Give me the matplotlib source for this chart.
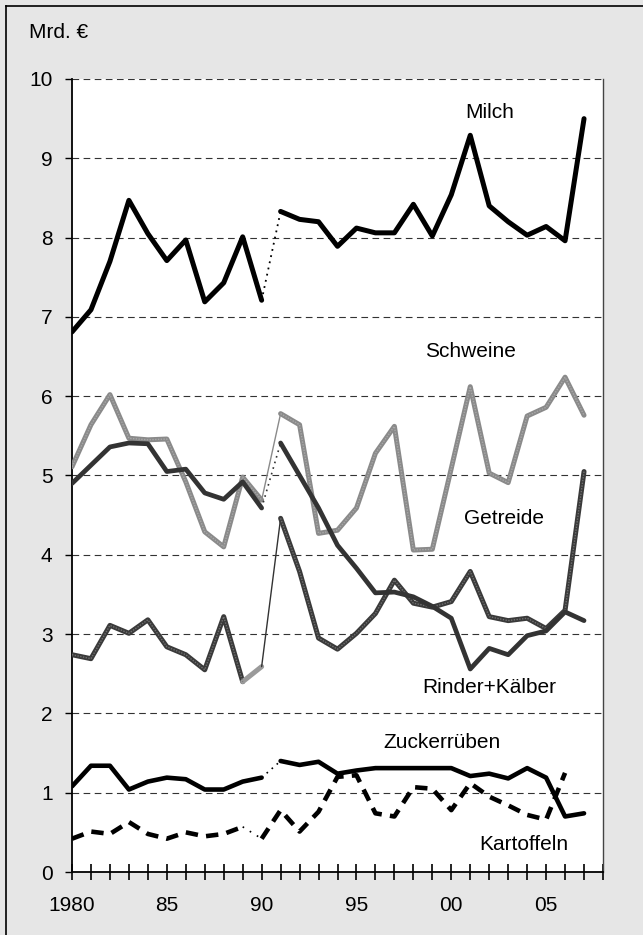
import numpy as np
import matplotlib
matplotlib.use("Agg")
import matplotlib.pyplot as plt
from matplotlib.lines import Line2D

plt.rcParams['font.family'] = ['Liberation Sans', 'DejaVu Sans']

years = np.arange(1980, 2008)

milch = [6.81, 7.09, 7.70, 8.47, 8.05, 7.71, 7.97, 7.19, 7.43, 8.01, 7.21,
         8.33, 8.23, 8.20, 7.89, 8.12, 8.06, 8.06, 8.42, 8.02, 8.54,
         9.29, 8.40, 8.20, 8.03, 8.14, 7.96, 9.50]
schweine = [5.11, 5.64, 6.02, 5.47, 5.45, 5.46, 4.92, 4.29, 4.10, 4.98, 4.69,
            5.78, 5.64, 4.27, 4.31, 4.59, 5.28, 5.62, 4.06, 4.07, 5.09,
            6.12, 5.03, 4.91, 5.75, 5.86, 6.24, 5.76]
getreide = [4.90, 5.13, 5.36, 5.41, 5.40, 5.05, 5.08, 4.78, 4.70, 4.92, 4.59,
            5.41, 5.00, 4.59, 4.12, 3.83, 3.52, 3.53, 3.47, 3.35, 3.20,
            2.56, 2.82, 2.74, 2.98, 3.04, 3.28, 3.17]
rinder = [2.74, 2.69, 3.11, 3.01, 3.18, 2.84, 2.74, 2.55, 3.22, 2.40, 2.59,
          4.46, 3.79, 2.95, 2.81, 3.01, 3.26, 3.68, 3.39, 3.34, 3.41,
          3.79, 3.22, 3.17, 3.20, 3.07, 3.30, 5.05]
zucker = [1.08, 1.34, 1.34, 1.04, 1.14, 1.19, 1.17, 1.04, 1.04, 1.14, 1.19,
          1.40, 1.35, 1.39, 1.24, 1.28, 1.31, 1.31, 1.31, 1.31, 1.31,
          1.21, 1.24, 1.18, 1.31, 1.19, 0.70, 0.74]
kartoffeln = [0.42, 0.51, 0.48, 0.63, 0.48, 0.42, 0.50, 0.45, 0.48, 0.57, 0.42,
              0.78, 0.51, 0.76, 1.20, 1.22, 0.74, 0.70, 1.07, 1.05, 0.78,
              1.12, 0.95, 0.84, 0.72, 0.66, 1.25, np.nan]

labels = ['Milch', 'Schweine', 'Getreide', 'Rinder+Kälber', 'Zuckerrüben', 'Kartoffeln']
label_pos = [(2002.05, 9.58), (2001.0, 6.56), (2002.8, 4.46), (2002.0, 2.33),
             (1999.5, 1.63), (2003.8, 0.35)]
xtick_labels = ['1980', '85', '90', '95', '00', '05']

fig = plt.figure(figsize=(6.43, 9.35), dpi=100)
fig.patch.set_facecolor('#e6e6e6')
ax = fig.add_axes([72/643, 63/935, 531/643, 793/935])
ax.set_facecolor('white')

def seg(data, i0, i1, **kw):
    ax.plot(years[i0:i1+1], data[i0:i1+1], solid_capstyle='round',
            solid_joinstyle='round', dash_capstyle='butt', **kw)

# Schweine (textured gray)
seg(schweine, 0, 10, color='#8a8a8a', lw=3.6, zorder=3)
seg(schweine, 10, 11, color='#8a8a8a', lw=1.0, zorder=3)
seg(schweine, 11, 27, color='#8a8a8a', lw=3.6, zorder=3)
seg(schweine, 0, 10, color='#a8a8a8', lw=1.0, ls=(0, (1, 1)), zorder=3.1)
seg(schweine, 11, 27, color='#a8a8a8', lw=1.0, ls=(0, (1, 1)), zorder=3.1)

# Rinder+Kälber (textured dark)
seg(rinder, 0, 9, color='#3a3a3a', lw=3.6, zorder=4)
seg(rinder, 9, 10, color='#9a9a9a', lw=3.6, zorder=4)
seg(rinder, 10, 11, color='#333333', lw=1.0, zorder=4)
seg(rinder, 11, 27, color='#3a3a3a', lw=3.6, zorder=4)
seg(rinder, 0, 9, color='#707070', lw=1.0, ls=(0, (1, 1)), zorder=4.1)
seg(rinder, 11, 27, color='#707070', lw=1.0, ls=(0, (1, 1)), zorder=4.1)

# Getreide
seg(getreide, 0, 10, color='#333333', lw=3.4, zorder=5)
seg(getreide, 10, 11, color='#333333', lw=1.2, ls=(0, (1, 2.5)), zorder=5)
seg(getreide, 11, 27, color='#333333', lw=3.4, zorder=5)

# Zuckerrüben
seg(zucker, 0, 10, color='black', lw=3.3, zorder=6)
seg(zucker, 10, 11, color='black', lw=1.2, ls=(0, (1, 3)), zorder=6)
seg(zucker, 11, 27, color='black', lw=3.3, zorder=6)

# Kartoffeln
seg(kartoffeln, 0, 9, color='black', lw=3.3, ls=(0, (2.7, 1.8)), zorder=7)
seg(kartoffeln, 9, 10, color='black', lw=1.2, ls=(0, (1, 4)), zorder=7)
seg(kartoffeln, 10, 26, color='black', lw=3.3, ls=(0, (2.7, 1.8)), zorder=7)

# Milch
seg(milch, 0, 10, color='black', lw=3.6, zorder=8)
seg(milch, 10, 11, color='black', lw=1.3, ls=(0, (1, 2.5)), zorder=8)
seg(milch, 11, 27, color='black', lw=3.6, zorder=8)

for lab, (lx, ly) in zip(labels, label_pos):
    ax.text(lx, ly, lab, ha='center', va='center', fontsize=15, zorder=10)

ax.set_xlim(1980, 2008)
ax.set_ylim(0, 10)
ax.set_yticks(range(0, 11))
ax.set_xticks(years[::5])
ax.set_xticklabels(xtick_labels)
ax.set_xticks(np.arange(1980, 2009), minor=True)
ax.tick_params(axis='y', direction='out', length=5, width=1, labelsize=15, pad=9)
ax.tick_params(axis='x', which='both', direction='inout', length=11, width=1.2,
               labelsize=15, pad=12)
ax.yaxis.grid(True, color='#333333', ls=(0, (6, 4)), lw=0.8)
ax.set_axisbelow(True)

for s in ['left', 'bottom']:
    ax.spines[s].set_linewidth(1.3)
    ax.spines[s].set_color('black')
ax.spines['right'].set_color('#444444')
ax.spines['right'].set_linewidth(1.0)
ax.spines['top'].set_visible(False)

fig.text(29/643, 1 - 33/935, 'Mrd. €', ha='left', va='center', fontsize=15)

# outer frame (left and top edges visible)
fig.add_artist(Line2D([6/643, 6/643], [0, 1 - 6/935], color='black', lw=1.2,
                      transform=fig.transFigure))
fig.add_artist(Line2D([6/643, 1], [1 - 6/935, 1 - 6/935], color='black', lw=1.2,
                      transform=fig.transFigure))

fig.savefig('out.png', dpi=100, facecolor=fig.get_facecolor())
